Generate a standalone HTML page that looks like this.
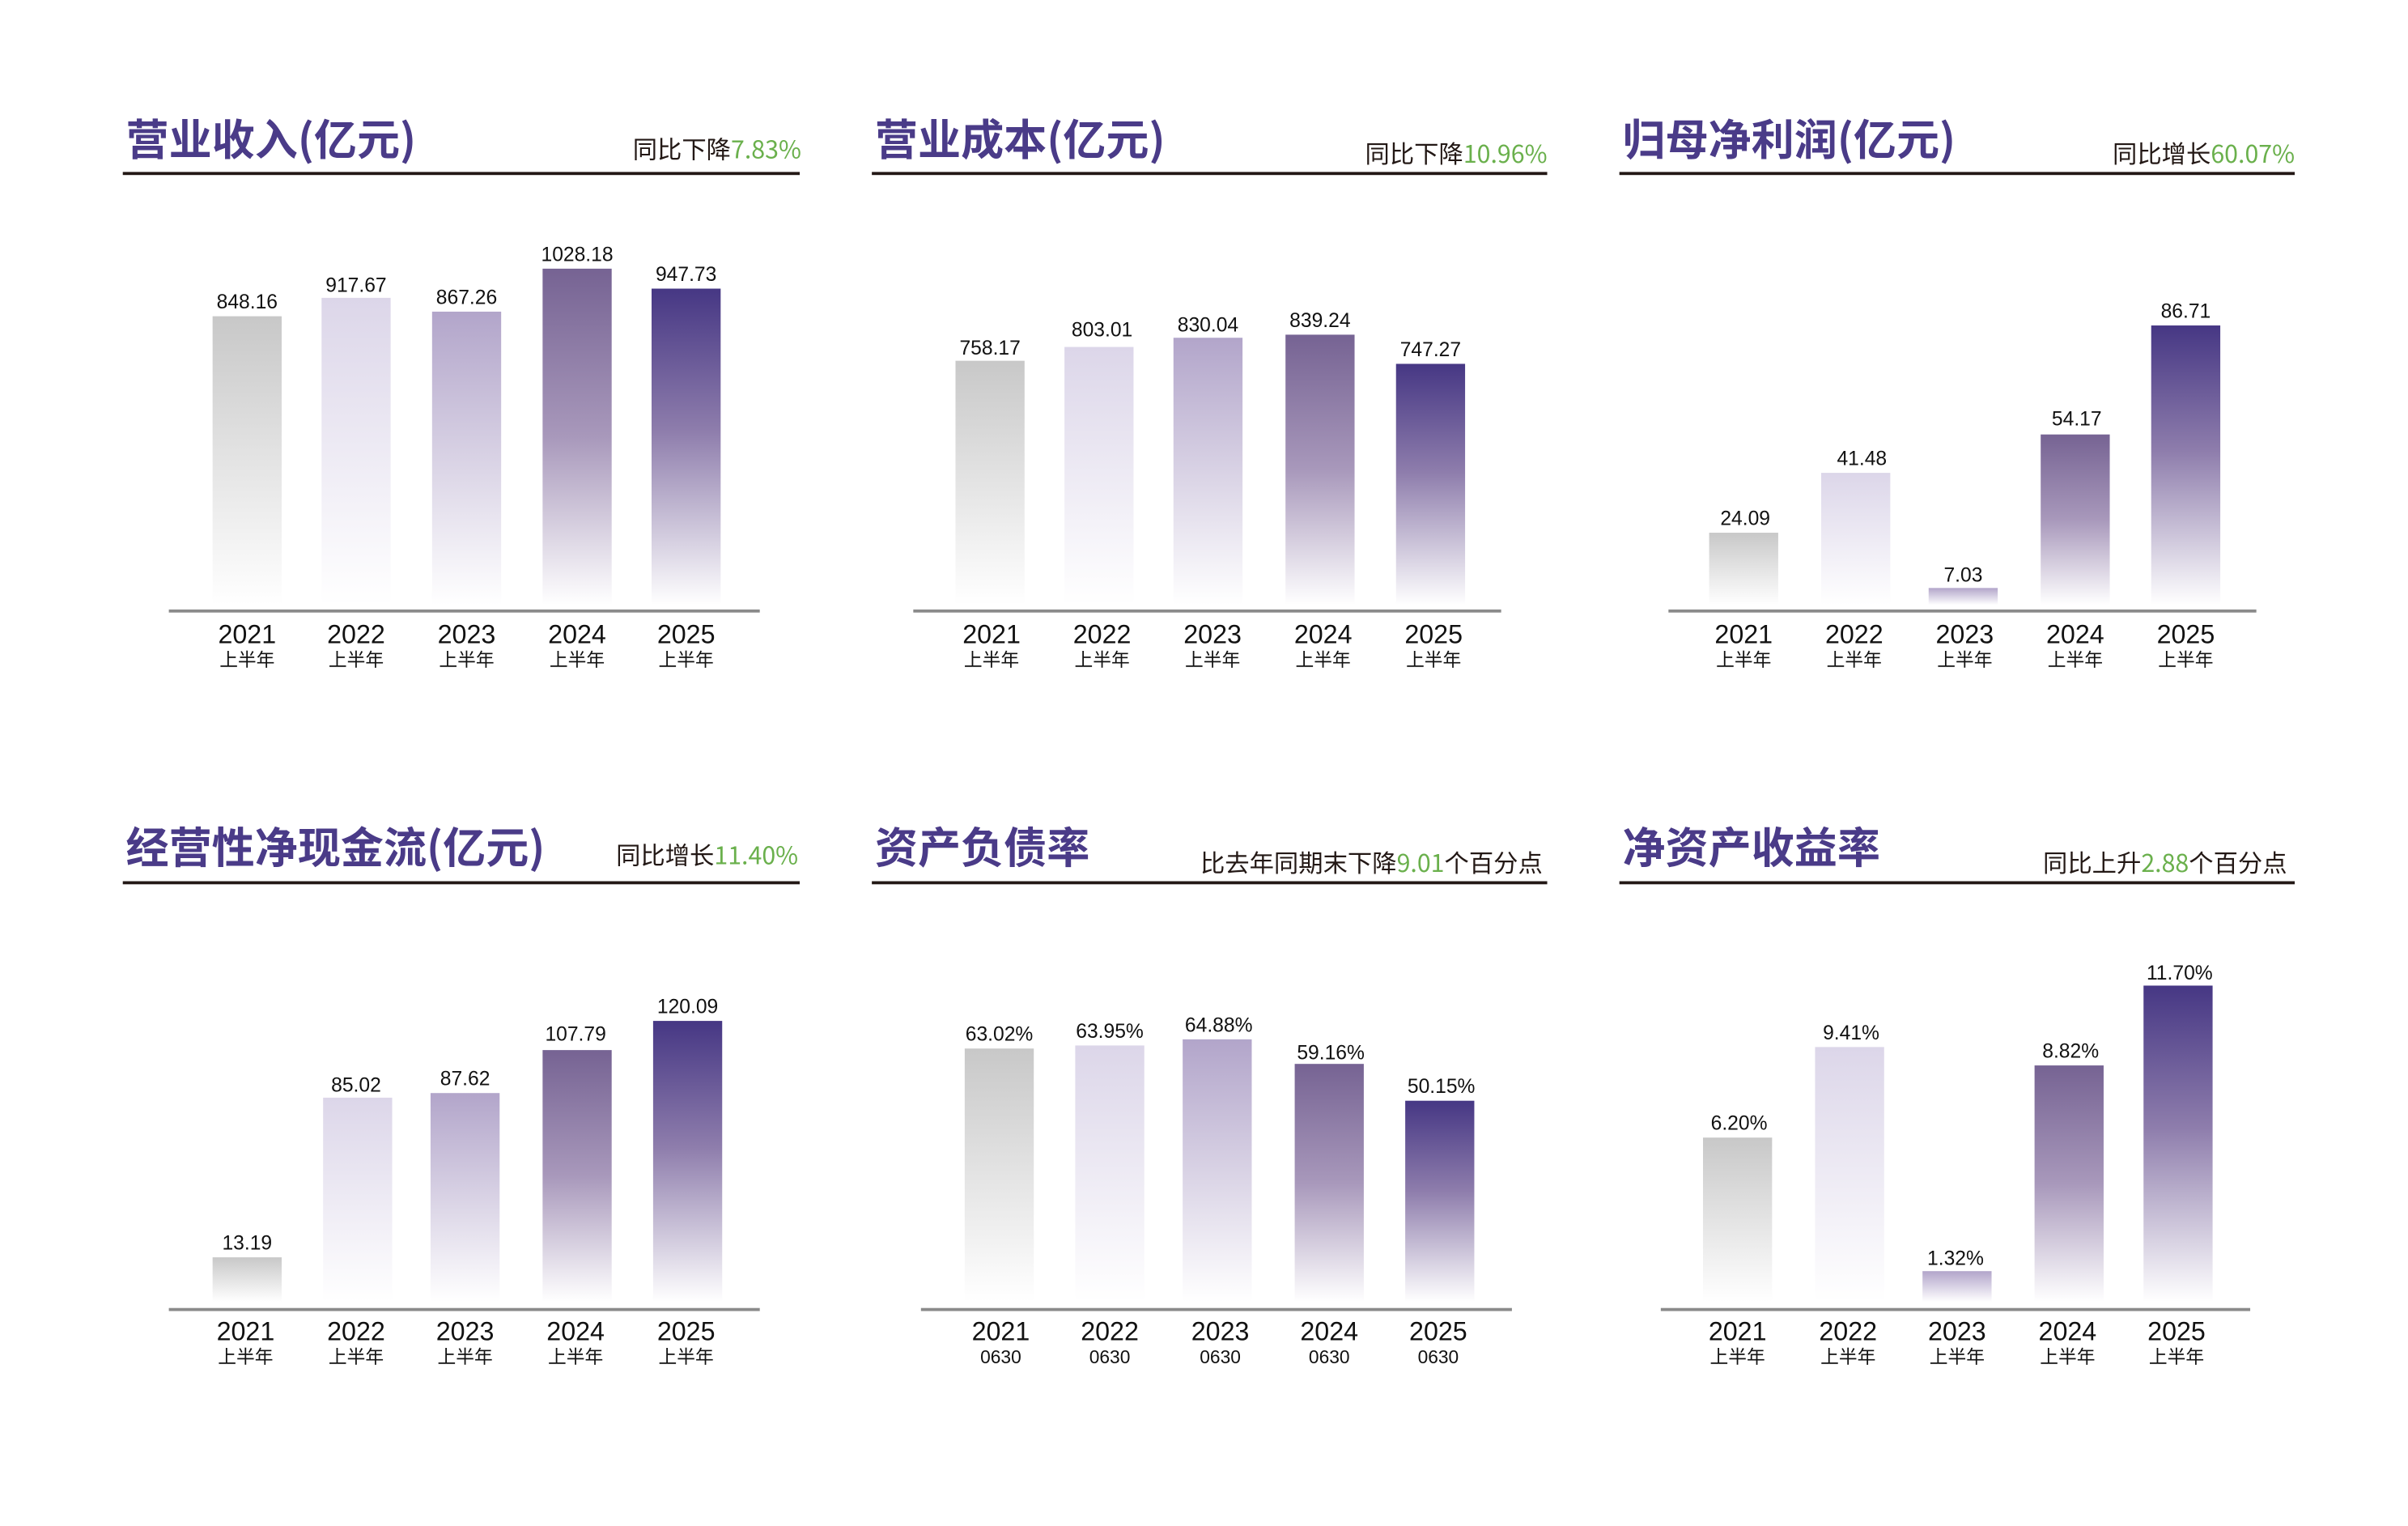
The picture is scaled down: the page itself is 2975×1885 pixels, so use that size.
<!DOCTYPE html>
<html><head><meta charset="utf-8"><style>html,body{margin:0;padding:0;background:#fff}svg{display:block}</style></head>
<body>
<svg xmlns="http://www.w3.org/2000/svg" width="2975" height="1885" viewBox="0 0 1568.8 994">
<defs>
<linearGradient id="g0" x1="0" y1="0" x2="0" y2="1"><stop offset="0" stop-color="#c8c8c8"/><stop offset="1" stop-color="#ffffff"/></linearGradient>
<linearGradient id="g1" x1="0" y1="0" x2="0" y2="1"><stop offset="0" stop-color="#dcd6e9"/><stop offset="1" stop-color="#ffffff"/></linearGradient>
<linearGradient id="g2" x1="0" y1="0" x2="0" y2="1"><stop offset="0" stop-color="#b2a5ca"/><stop offset="1" stop-color="#ffffff"/></linearGradient>
<linearGradient id="g3" x1="0" y1="0" x2="0" y2="1"><stop offset="0" stop-color="#766393"/><stop offset="0.5" stop-color="#a898bb"/><stop offset="1" stop-color="#ffffff"/></linearGradient>
<linearGradient id="g4" x1="0" y1="0" x2="0" y2="1"><stop offset="0" stop-color="#463784"/><stop offset="0.45" stop-color="#8e7dac"/><stop offset="1" stop-color="#ffffff"/></linearGradient>
</defs>
<g font-family="Liberation Sans, Noto Sans CJK SC, sans-serif">
<!-- Panel 1 -->
<text x="82" y="101" font-size="28" font-weight="bold" fill="#4a3b88" font-family="Noto Sans CJK SC, sans-serif">营业收入(亿元)</text>
<text x="522" y="103" font-size="16" text-anchor="end" fill="#231815" font-family="Noto Sans CJK SC, sans-serif">同比下降<tspan fill="#6ab04c">7.83%</tspan></text>
<rect x="80" y="112" width="441" height="2" fill="#231815"/>
<rect x="110" y="397" width="385" height="2" fill="#8a8a8a"/>
<rect x="138.5" y="206" width="45" height="188" fill="url(#g0)"/>
<rect x="209.5" y="194" width="45" height="200" fill="url(#g1)"/>
<rect x="281.5" y="203" width="45" height="191" fill="url(#g2)"/>
<rect x="353.5" y="175" width="45" height="219" fill="url(#g3)"/>
<rect x="424.5" y="188" width="45" height="206" fill="url(#g4)"/>
<g font-size="13" text-anchor="middle" fill="#111">
<text x="161" y="201">848.16</text><text x="232" y="190">917.67</text><text x="304" y="198">867.26</text><text x="376" y="170">1028.18</text><text x="447" y="183">947.73</text>
</g>
<g text-anchor="middle" fill="#111"><g font-size="17"><text x="161" y="419">2021</text><text x="232" y="419">2022</text><text x="304" y="419">2023</text><text x="376" y="419">2024</text><text x="447" y="419">2025</text></g>
<g font-size="12" font-family="Noto Sans CJK SC, sans-serif"><text x="161" y="434">上半年</text><text x="232" y="434">上半年</text><text x="304" y="434">上半年</text><text x="376" y="434">上半年</text><text x="447" y="434">上半年</text></g></g>

<!-- Panel 2 -->
<text x="570" y="101" font-size="28" font-weight="bold" fill="#4a3b88" font-family="Noto Sans CJK SC, sans-serif">营业成本(亿元)</text>
<text x="1008" y="106" font-size="16" text-anchor="end" fill="#231815" font-family="Noto Sans CJK SC, sans-serif">同比下降<tspan fill="#6ab04c">10.96%</tspan></text>
<rect x="568" y="112" width="440" height="2" fill="#231815"/>
<rect x="595" y="397" width="383" height="2" fill="#8a8a8a"/>
<rect x="622.5" y="235" width="45" height="159" fill="url(#g0)"/>
<rect x="693.5" y="226" width="45" height="168" fill="url(#g1)"/>
<rect x="764.5" y="220" width="45" height="174" fill="url(#g2)"/>
<rect x="837.5" y="218" width="45" height="176" fill="url(#g3)"/>
<rect x="909.5" y="237" width="45" height="157" fill="url(#g4)"/>
<g font-size="13" text-anchor="middle" fill="#111">
<text x="645" y="231">758.17</text><text x="718" y="219">803.01</text><text x="787" y="216">830.04</text><text x="860" y="213">839.24</text><text x="932" y="232">747.27</text>
</g>
<g text-anchor="middle" fill="#111"><g font-size="17"><text x="646" y="419">2021</text><text x="718" y="419">2022</text><text x="790" y="419">2023</text><text x="862" y="419">2024</text><text x="934" y="419">2025</text></g>
<g font-size="12" font-family="Noto Sans CJK SC, sans-serif"><text x="646" y="434">上半年</text><text x="718" y="434">上半年</text><text x="790" y="434">上半年</text><text x="862" y="434">上半年</text><text x="934" y="434">上半年</text></g></g>

<!-- Panel 3 -->
<text x="1057" y="101" font-size="28" font-weight="bold" fill="#4a3b88" font-family="Noto Sans CJK SC, sans-serif">归母净利润(亿元)</text>
<text x="1495" y="106" font-size="16" text-anchor="end" fill="#231815" font-family="Noto Sans CJK SC, sans-serif">同比增长<tspan fill="#6ab04c">60.07%</tspan></text>
<rect x="1055" y="112" width="440" height="2" fill="#231815"/>
<rect x="1087" y="397" width="383" height="2" fill="#8a8a8a"/>
<rect x="1113.5" y="347" width="45" height="47" fill="url(#g0)"/>
<rect x="1186.5" y="308" width="45" height="86" fill="url(#g1)"/>
<rect x="1256.5" y="383" width="45" height="11" fill="url(#g2)"/>
<rect x="1329.5" y="283" width="45" height="111" fill="url(#g3)"/>
<rect x="1401.5" y="212" width="45" height="182" fill="url(#g4)"/>
<g font-size="13" text-anchor="middle" fill="#111">
<text x="1137" y="342">24.09</text><text x="1213" y="303">41.48</text><text x="1279" y="379">7.03</text><text x="1353" y="277">54.17</text><text x="1424" y="207">86.71</text>
</g>
<g text-anchor="middle" fill="#111"><g font-size="17"><text x="1136" y="419">2021</text><text x="1208" y="419">2022</text><text x="1280" y="419">2023</text><text x="1352" y="419">2024</text><text x="1424" y="419">2025</text></g>
<g font-size="12" font-family="Noto Sans CJK SC, sans-serif"><text x="1136" y="434">上半年</text><text x="1208" y="434">上半年</text><text x="1280" y="434">上半年</text><text x="1352" y="434">上半年</text><text x="1424" y="434">上半年</text></g></g>

<!-- Panel 4 -->
<text x="82" y="562" font-size="28" font-weight="bold" fill="#4a3b88" font-family="Noto Sans CJK SC, sans-serif">经营性净现金流(亿元)</text>
<text x="520" y="563" font-size="16" text-anchor="end" fill="#231815" font-family="Noto Sans CJK SC, sans-serif">同比增长<tspan fill="#6ab04c">11.40%</tspan></text>
<rect x="80" y="574" width="441" height="2" fill="#231815"/>
<rect x="110" y="852" width="385" height="2" fill="#8a8a8a"/>
<rect x="138.5" y="819" width="45" height="29" fill="url(#g0)"/>
<rect x="210.5" y="715" width="45" height="133" fill="url(#g1)"/>
<rect x="280.5" y="712" width="45" height="136" fill="url(#g2)"/>
<rect x="353.5" y="684" width="45" height="164" fill="url(#g3)"/>
<rect x="425.5" y="665" width="45" height="183" fill="url(#g4)"/>
<g font-size="13" text-anchor="middle" fill="#111">
<text x="161" y="814">13.19</text><text x="232" y="711">85.02</text><text x="303" y="707">87.62</text><text x="375" y="678">107.79</text><text x="448" y="660">120.09</text>
</g>
<g text-anchor="middle" fill="#111"><g font-size="17"><text x="160" y="873">2021</text><text x="232" y="873">2022</text><text x="303" y="873">2023</text><text x="375" y="873">2024</text><text x="447" y="873">2025</text></g>
<g font-size="12" font-family="Noto Sans CJK SC, sans-serif"><text x="160" y="888">上半年</text><text x="232" y="888">上半年</text><text x="303" y="888">上半年</text><text x="375" y="888">上半年</text><text x="447" y="888">上半年</text></g></g>

<!-- Panel 5 -->
<text x="570" y="562" font-size="28" font-weight="bold" fill="#4a3b88" font-family="Noto Sans CJK SC, sans-serif">资产负债率</text>
<text x="1005" y="568" font-size="16" text-anchor="end" fill="#231815" font-family="Noto Sans CJK SC, sans-serif">比去年同期末下降<tspan fill="#6ab04c">9.01</tspan>个百分点</text>
<rect x="568" y="574" width="440" height="2" fill="#231815"/>
<rect x="600" y="852" width="385" height="2" fill="#8a8a8a"/>
<rect x="628.5" y="683" width="45" height="165" fill="url(#g0)"/>
<rect x="700.5" y="681" width="45" height="167" fill="url(#g1)"/>
<rect x="770.5" y="677" width="45" height="171" fill="url(#g2)"/>
<rect x="843.5" y="693" width="45" height="155" fill="url(#g3)"/>
<rect x="915.5" y="717" width="45" height="131" fill="url(#g4)"/>
<g font-size="13" text-anchor="middle" fill="#111">
<text x="651" y="678">63.02%</text><text x="723" y="676">63.95%</text><text x="794" y="672">64.88%</text><text x="867" y="690">59.16%</text><text x="939" y="712">50.15%</text>
</g>
<g text-anchor="middle" fill="#111"><g font-size="17"><text x="652" y="873">2021</text><text x="723" y="873">2022</text><text x="795" y="873">2023</text><text x="866" y="873">2024</text><text x="937" y="873">2025</text></g>
<g font-size="12"><text x="652" y="888">0630</text><text x="723" y="888">0630</text><text x="795" y="888">0630</text><text x="866" y="888">0630</text><text x="937" y="888">0630</text></g></g>

<!-- Panel 6 -->
<text x="1057" y="562" font-size="28" font-weight="bold" fill="#4a3b88" font-family="Noto Sans CJK SC, sans-serif">净资产收益率</text>
<text x="1490" y="568" font-size="16" text-anchor="end" fill="#231815" font-family="Noto Sans CJK SC, sans-serif">同比上升<tspan fill="#6ab04c">2.88</tspan>个百分点</text>
<rect x="1055" y="574" width="440" height="2" fill="#231815"/>
<rect x="1082" y="852" width="384" height="2" fill="#8a8a8a"/>
<rect x="1109.5" y="741" width="45" height="107" fill="url(#g0)"/>
<rect x="1182.5" y="682" width="45" height="166" fill="url(#g1)"/>
<rect x="1252.5" y="828" width="45" height="20" fill="url(#g2)"/>
<rect x="1325.5" y="694" width="45" height="154" fill="url(#g3)"/>
<rect x="1396.5" y="642" width="45" height="206" fill="url(#g4)"/>
<g font-size="13" text-anchor="middle" fill="#111">
<text x="1133" y="736">6.20%</text><text x="1206" y="677">9.41%</text><text x="1274" y="824">1.32%</text><text x="1349" y="689">8.82%</text><text x="1420" y="638">11.70%</text>
</g>
<g text-anchor="middle" fill="#111"><g font-size="17"><text x="1132" y="873">2021</text><text x="1204" y="873">2022</text><text x="1275" y="873">2023</text><text x="1347" y="873">2024</text><text x="1418" y="873">2025</text></g>
<g font-size="12" font-family="Noto Sans CJK SC, sans-serif"><text x="1132" y="888">上半年</text><text x="1204" y="888">上半年</text><text x="1275" y="888">上半年</text><text x="1347" y="888">上半年</text><text x="1418" y="888">上半年</text></g></g>
</g>
</svg>
</body></html>
